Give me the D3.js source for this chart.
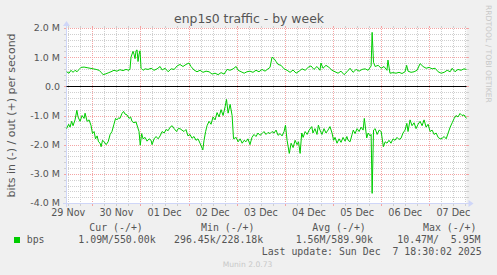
<!DOCTYPE html>
<html>
<head>
<meta charset="utf-8">
<script src="https://cdn.jsdelivr.net/npm/d3@7"></script>
<style>
  body { margin: 0; background: #f0f0f0; }
  svg { display: block; }
  text { font-family: "DejaVu Sans", sans-serif; fill: #555; }
  .mono { font-family: "DejaVu Sans Mono", monospace; white-space: pre; }
</style>
</head>
<body>
<svg id="chart" width="497" height="275"></svg>
<script>
'use strict';

// hours counted from 29 Nov 2025 00:00, values in Mbit/s
var outHours = [
  11.2, 12.4, 13.4, 14.4, 15.4, 16.4, 17.4, 18.4, 19.9, 21.4,
  22.9, 24.4, 25.9, 27.4, 28.4, 29.4, 30.4, 31.9, 33.3, 34.8,
  36.3, 37.8, 39.3, 40.8, 42.3, 42.8, 43.3, 44.3, 44.8, 45.3,
  45.8, 46.3, 46.8, 47.3, 47.8, 48.3, 49.3, 50.3, 51.8, 53.3,
  54.8, 56.3, 57.8, 58.8, 60.3, 61.8, 63.3, 64.8, 66.3, 67.7,
  69.2, 70.7, 72.2, 73.2, 74.7, 76.2, 77.7, 79.2, 80.7, 82.2,
  83.7, 85.2, 86.7, 88.2, 89.7, 91.2, 92.7, 94.2, 95.7, 96.7,
  98.2, 99.7, 101.1, 102.6, 104.1, 105.6, 107.1, 108.6, 110.1, 111.6,
  112.6, 113.6, 114.6, 115.6, 116.6, 118.1, 119.6, 121.1, 122.6, 124.1,
  125.6, 127.1, 128.6, 130.1, 131.6, 133.0, 134.5, 136.0, 137.5, 138.0,
  139.0, 140.5, 142.0, 143.5, 145.0, 146.5, 148.0, 149.5, 151.0, 152.5,
  154.0, 155.5, 157.0, 158.5, 160.0, 161.5, 163.0, 163.5, 164.2, 165.0,
  166.5, 168.0, 169.4, 170.9, 171.4, 172.4, 173.9, 175.4, 176.9, 178.4,
  179.9, 180.7, 181.4, 182.9, 184.4, 185.9, 187.4, 188.9, 190.4, 191.9,
  193.4, 194.9, 196.4, 197.9, 199.4, 200.9, 202.4, 203.4, 204.8, 206.3,
  207.8, 209.3, 210.5
];
var outMbps = [
  0.50, 0.45, 0.55, 0.48, 0.55, 0.50, 0.58, 0.65, 0.66, 0.64,
  0.62, 0.60, 0.58, 0.55, 0.48, 0.40, 0.42, 0.46, 0.50, 0.55,
  0.52, 0.57, 0.54, 0.58, 0.55, 0.60, 1.00, 1.20, 1.10, 0.95,
  1.22, 1.25, 0.85, 1.10, 1.22, 0.62, 0.55, 0.60, 0.58, 0.62,
  0.55, 0.60, 0.68, 0.56, 0.62, 0.50, 0.60, 0.58, 0.70, 0.75,
  0.68, 0.75, 0.80, 0.68, 0.56, 0.50, 0.55, 0.48, 0.52, 0.50,
  0.42, 0.45, 0.40, 0.47, 0.42, 0.58, 0.55, 0.60, 0.68, 0.55,
  0.50, 0.45, 0.50, 0.52, 0.48, 0.55, 0.50, 0.58, 0.52, 0.60,
  0.65, 1.00, 0.95, 0.85, 0.75, 0.72, 0.60, 0.55, 0.48, 0.56,
  0.45, 0.52, 0.60, 0.55, 0.65, 0.70, 0.58, 0.68, 0.55, 0.80,
  0.62, 0.72, 0.65, 0.55, 0.50, 0.45, 0.52, 0.40, 0.50, 0.62,
  0.48, 0.58, 0.52, 0.58, 0.60, 0.55, 0.70, 1.85, 0.82, 0.68,
  0.72, 0.62, 0.68, 0.55, 0.90, 0.45, 0.47, 0.45, 0.48, 0.44,
  0.50, 0.72, 0.52, 0.48, 0.50, 0.55, 0.78, 0.68, 0.62, 0.65,
  0.60, 0.62, 0.50, 0.45, 0.48, 0.55, 0.50, 0.62, 0.50, 0.58,
  0.55, 0.60, 0.58
];

var inHours = [
  11.2, 12.2, 12.9, 13.7, 14.4, 15.4, 16.3, 16.9, 17.9, 18.9,
  19.9, 20.4, 21.4, 22.4, 23.4, 24.1, 24.9, 25.6, 26.4, 27.1,
  27.9, 28.4, 29.1, 29.9, 30.9, 31.9, 32.9, 33.8, 34.8, 35.6,
  36.3, 37.1, 37.8, 38.8, 39.6, 40.3, 41.3, 42.3, 43.1, 43.8,
  44.8, 45.8, 46.6, 47.3, 47.9, 48.6, 49.3, 50.3, 51.3, 52.3,
  53.3, 53.8, 54.8, 55.8, 56.8, 57.8, 58.8, 59.8, 60.8, 61.8,
  62.8, 63.8, 64.8, 66.0, 66.8, 67.7, 68.7, 69.7, 70.7, 71.7,
  72.7, 73.7, 74.7, 75.7, 76.7, 77.7, 79.1, 79.7, 80.5, 81.2,
  82.2, 83.2, 84.2, 85.2, 86.2, 87.2, 88.2, 89.2, 90.2, 90.9,
  91.7, 92.7, 93.7, 94.4, 95.7, 96.7, 97.7, 98.7, 99.7, 100.6,
  101.6, 102.6, 103.6, 104.6, 105.6, 106.6, 107.6, 108.6, 109.6, 110.6,
  111.6, 112.6, 113.6, 114.6, 115.6, 116.6, 117.6, 118.6, 119.6, 120.3,
  121.1, 122.2, 123.1, 124.1, 125.1, 126.1, 126.8, 127.6, 128.4, 129.1,
  130.1, 131.1, 132.1, 133.4, 134.0, 135.0, 136.0, 136.7, 137.5, 138.5,
  139.5, 140.5, 141.5, 142.5, 143.5, 144.3, 145.0, 146.0, 147.0, 148.0,
  149.0, 150.0, 150.9, 151.5, 152.5, 153.5, 154.1, 155.0, 156.0, 157.0,
  158.0, 159.0, 159.6, 160.8, 161.5, 162.5, 163.0, 163.5, 164.2, 165.0,
  166.0, 167.0, 168.0, 169.1, 170.0, 170.9, 171.9, 172.9, 173.9, 174.9,
  175.9, 176.9, 177.9, 178.9, 179.9, 180.8, 181.4, 182.4, 183.4, 184.4,
  185.4, 186.4, 187.4, 188.4, 189.4, 190.4, 191.4, 192.4, 193.4, 194.4,
  195.4, 196.4, 197.4, 198.4, 199.4, 200.4, 201.4, 202.4, 203.4, 204.4,
  205.3, 206.3, 207.3, 208.3, 209.3, 210.5
];
var inMbps = [
  1.45, 1.30, 1.40, 1.20, 1.35, 1.15, 0.82, 1.05, 1.20, 1.00,
  1.10, 0.92, 1.20, 1.15, 1.35, 1.62, 1.55, 1.80, 1.70, 1.90,
  1.95, 2.07, 1.85, 1.90, 2.00, 1.90, 1.65, 1.55, 1.30, 1.10,
  1.15, 1.08, 1.10, 0.93, 0.86, 0.95, 0.98, 1.10, 1.05, 1.20,
  1.25, 1.22, 1.40, 1.55, 2.02, 1.62, 1.80, 1.75, 1.88, 1.80,
  1.85, 2.00, 1.80, 1.72, 1.80, 1.70, 1.55, 1.60, 1.48, 1.52,
  1.40, 1.35, 1.45, 1.55, 1.45, 1.45, 1.50, 1.55, 1.48, 1.70,
  1.65, 1.78, 1.72, 1.85, 1.80, 1.95, 2.18, 1.85, 1.55, 1.35,
  1.20, 1.30, 1.05, 1.15, 0.90, 1.05, 0.80, 1.00, 0.70, 0.45,
  0.92, 0.62, 1.00, 1.80, 1.75, 1.90, 1.80, 1.95, 1.85, 1.90,
  1.80, 2.00, 1.75, 1.65, 1.72, 1.60, 1.68, 1.62, 1.55, 1.65,
  1.58, 1.62, 1.55, 1.60, 1.50, 1.68, 1.62, 1.70, 1.55, 1.33,
  1.85, 2.30, 1.95, 2.10, 1.85, 2.00, 1.90, 2.30, 1.60, 1.75,
  1.55, 1.65, 1.50, 1.38, 1.60, 1.45, 1.65, 1.33, 1.50, 1.65,
  1.45, 1.60, 1.50, 1.38, 1.60, 1.85, 1.75, 1.95, 1.80, 1.92,
  1.75, 1.88, 1.72, 1.85, 1.90, 1.65, 1.50, 1.62, 1.45, 1.55,
  1.40, 1.50, 1.10, 1.77, 1.60, 1.70, 1.65, 3.67, 1.50, 1.45,
  1.65, 1.50, 1.55, 2.07, 1.90, 1.95, 1.85, 1.95, 1.80, 1.85,
  1.75, 1.82, 1.78, 1.60, 1.50, 1.27, 1.55, 1.15, 1.35, 1.25,
  1.45, 1.30, 1.20, 1.35, 1.15, 1.40, 1.30, 1.55, 1.50, 1.65,
  1.60, 1.75, 1.80, 1.78, 1.72, 1.80, 1.60, 1.40, 1.25, 1.10,
  1.00, 1.05, 0.93, 1.00, 0.98, 1.10
];

var yTicks = [-4, -3, -2, -1, 0, 1, 2];
var yTickLabels = ["-4.0 M", "-3.0 M", "-2.0 M", "-1.0 M", "0.0", "1.0 M", "2.0 M"];
var legendHeads = ["Cur (-/+)", "Min (-/+)", "Avg (-/+)", "Max (-/+)"];
var legendVals = ["1.09M/550.00k", "296.45k/228.18k", "1.56M/589.90k", "10.47M/  5.95M"];

var baseMs = Date.UTC(2025, 10, 29);
function hourToDate(h) { return new Date(baseMs + h * 3600e3); }

var svg = d3.select("#chart");
svg.append("rect").attr("width", 497).attr("height", 275).attr("fill", "#f0f0f0");

// plot box
var x0 = 66.5, x1 = 466.5, yTop = 28, yBot = 203;
var start = hourToDate(11.14), end = hourToDate(210.54);

var x = d3.scaleUtc().domain([start, end]).range([x0, x1]);
var y = d3.scaleLinear().domain([-4, 2]).range([yBot, yTop]);

svg.append("rect")
  .attr("x", x0).attr("y", yTop)
  .attr("width", x1 - x0).attr("height", yBot - yTop)
  .attr("fill", "#ffffff");

var grid = svg.append("g").attr("shape-rendering", "crispEdges");

function hLine(v, color) {
  var yy = Math.round(y(v)) + 0.5;
  grid.append("line").attr("x1", x0 - 1).attr("x2", x1 + 1).attr("y1", yy).attr("y2", yy)
    .attr("stroke", color).attr("stroke-dasharray", "1,1");
  grid.append("line").attr("x1", x0 - 3).attr("x2", x0).attr("y1", yy).attr("y2", yy).attr("stroke", color);
  grid.append("line").attr("x1", x1).attr("x2", x1 + 2).attr("y1", yy).attr("y2", yy).attr("stroke", color);
}
function vLine(t, color) {
  var xx = Math.round(x(t)) + 0.5;
  grid.append("line").attr("x1", xx).attr("x2", xx).attr("y1", yTop - 1).attr("y2", yBot + 1)
    .attr("stroke", color).attr("stroke-dasharray", "1,1");
  grid.append("line").attr("x1", xx).attr("x2", xx).attr("y1", yBot).attr("y2", yBot + 3).attr("stroke", color);
  grid.append("line").attr("x1", xx).attr("x2", xx).attr("y1", yTop - 2).attr("y2", yTop).attr("stroke", color);
}

var minorCol = "#cfcfcf", majorCol = "#f4a4a4";

// minor grid: every 0.2 M and every 6 hours
d3.range(-20, 11).forEach(function(k) {
  if (k % 5 !== 0) hLine(k / 5, minorCol);
});
d3.utcHour.every(6).range(start, end).forEach(function(t) {
  if (t.getUTCHours() !== 0) vLine(t, minorCol);
});
// major grid: every 1 M and every day
yTicks.forEach(function(v) { hLine(v, majorCol); });
d3.utcDay.range(start, end).forEach(function(t) { vLine(t, majorCol); });

// axes + arrows
var axisCol = "#cfd6f8";
grid.append("line").attr("x1", x0 - 4).attr("x2", x1 + 4).attr("y1", yBot + 0.5).attr("y2", yBot + 0.5).attr("stroke", axisCol);
grid.append("line").attr("x1", x0).attr("x2", x0).attr("y1", yBot + 4).attr("y2", yTop - 4).attr("stroke", axisCol);
svg.append("path")
  .attr("d", "M" + (x1 + 2) + "," + (yBot - 3) + "L" + (x1 + 2) + "," + (yBot + 4) + "L" + (x1 + 7) + "," + (yBot + 0.5) + "Z")
  .attr("fill", axisCol);
svg.append("path")
  .attr("d", "M" + (x0 - 3.5) + "," + (yTop - 2) + "L" + (x0 + 3.5) + "," + (yTop - 2) + "L" + x0 + "," + (yTop - 7) + "Z")
  .attr("fill", axisCol);

// y tick labels
svg.selectAll("text.ytick")
  .data(yTicks)
  .enter().append("text")
    .attr("class", "ytick")
    .attr("x", 60)
    .attr("y", function(d) { return y(d); })
    .attr("dy", "0.36em")
    .attr("text-anchor", "end")
    .style("font-size", "9.5px")
    .text(function(d, i) { return yTickLabels[i]; });

// x labels centred at noon
var fmtDay = d3.utcFormat("%d %b");
var labelDays = d3.utcDay.range(d3.utcDay.floor(start), new Date(end.getTime() - 12 * 3600e3 + 1));
svg.selectAll("text.xtick")
  .data(labelDays)
  .enter().append("text")
    .attr("class", "xtick")
    .attr("x", function(d) { return x(d3.utcHour.offset(d, 12)); })
    .attr("y", 216)
    .attr("text-anchor", "middle")
    .style("font-size", "9.6px")
    .text(function(d) { return fmtDay(d); });

// data
var outData = outHours.map(function(h, i) { return { t: hourToDate(h), v: outMbps[i] }; });
var inData = inHours.map(function(h, i) { return { t: hourToDate(h), v: -inMbps[i] }; });

var line = d3.line()
  .x(function(d) { return x(d.t); })
  .y(function(d) { return y(d.v); });

svg.append("path").attr("d", line(outData))
  .attr("fill", "none").attr("stroke", "#00cc00").attr("stroke-width", 1);
svg.append("path").attr("d", line(inData))
  .attr("fill", "none").attr("stroke", "#00cc00").attr("stroke-width", 1);

// zero rule
svg.append("line")
  .attr("x1", x0).attr("x2", x1)
  .attr("y1", Math.round(y(0)) + 0.5).attr("y2", Math.round(y(0)) + 0.5)
  .attr("stroke", "#000").attr("stroke-width", 1.2);

// title and axis title
svg.append("text")
  .attr("x", 249).attr("y", 23)
  .attr("text-anchor", "middle")
  .style("font-size", "12.4px")
  .text("enp1s0 traffic - by week");

svg.append("text")
  .attr("transform", "translate(14.5," + ((yTop + yBot) / 2) + ") rotate(-90)")
  .attr("text-anchor", "middle")
  .style("font-size", "11px")
  .text("bits in (-) / out (+) per second");

svg.append("text")
  .attr("transform", "translate(485.5,5) rotate(90)")
  .style("font-size", "7.6px")
  .style("fill", "#c8c8c8")
  .text("RRDTOOL / TOBI OETIKER");

// legend
var headX = [89.3, 201, 312.3, 423];
var valX = [78.3, 174, 295.7, 397.3];
legendHeads.forEach(function(s, i) {
  svg.append("text").attr("class", "mono")
    .attr("x", headX[i]).attr("y", 230.7)
    .style("font-size", "9.9px").text(s);
});
svg.append("rect").attr("x", 14).attr("y", 237).attr("width", 6).attr("height", 6).attr("fill", "#00cc00");
svg.append("text").attr("class", "mono")
  .attr("x", 26.7).attr("y", 242.7).style("font-size", "9.9px").text("bps");
legendVals.forEach(function(s, i) {
  svg.append("text").attr("class", "mono")
    .attr("x", valX[i]).attr("y", 242.7)
    .style("font-size", "9.9px").text(s);
});
svg.append("text").attr("class", "mono")
  .attr("x", 261.7).attr("y", 254.7)
  .style("font-size", "9.9px")
  .text("Last update: Sun Dec  7 18:30:02 2025");

svg.append("text")
  .attr("x", 222.7).attr("y", 266.7)
  .style("font-size", "7.6px")
  .style("fill", "#c8c8c8")
  .text("Munin 2.0.73");
</script>
</body>
</html>
